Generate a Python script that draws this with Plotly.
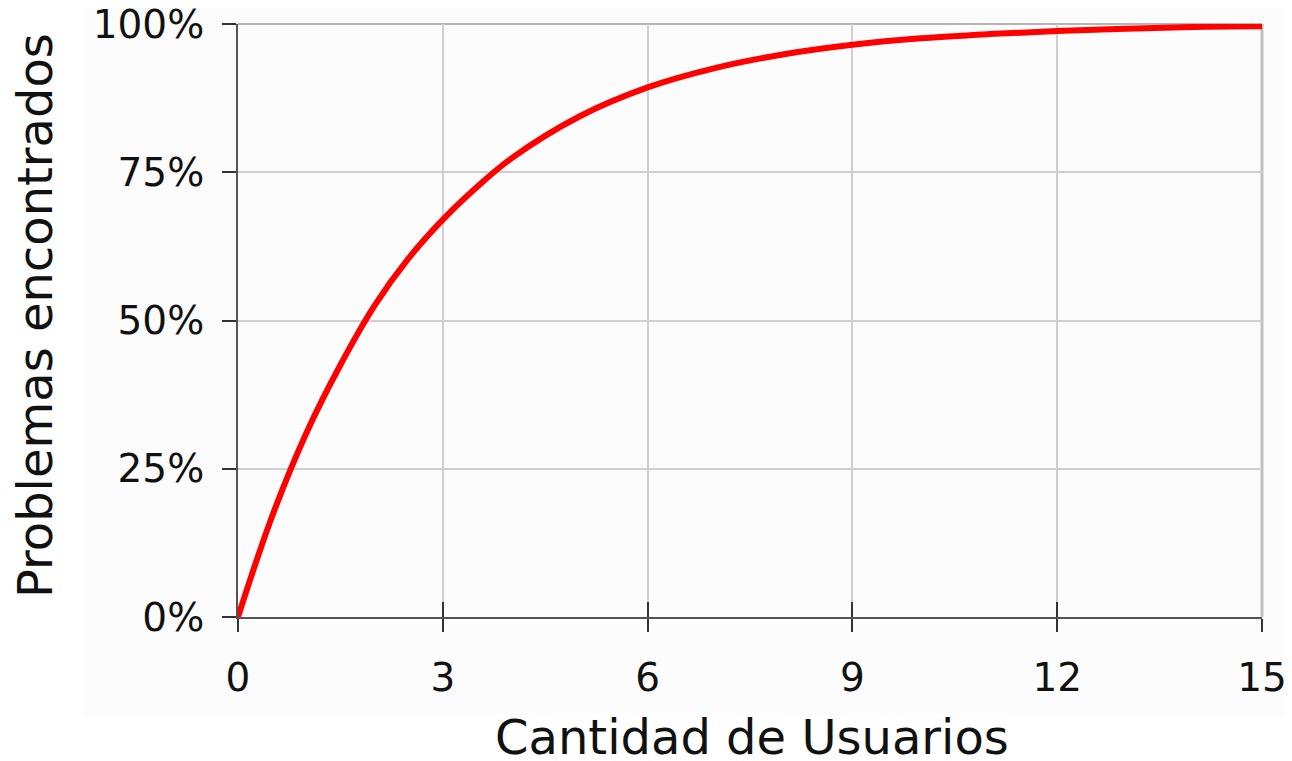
import plotly.graph_objects as go

usuarios = [0, 0.5, 1, 1.5, 2, 2.5, 3, 3.5, 4, 5, 6, 7, 8, 9, 10, 11, 12, 13, 14, 15]
problemas = [0, 17, 31, 42.5, 52.5, 60.5, 67, 72.5, 77.3, 84.4, 89.3, 92.6, 94.9, 96.5, 97.6, 98.3, 98.8, 99.2, 99.5, 99.6]

x_ticks = [0, 3, 6, 9, 12, 15]
y_ticks = [0, 25, 50, 75, 100]
y_labels = ["0%", "25%", "50%", "75%", "100%"]
x_title = "Cantidad de Usuarios"
y_title = "Problemas encontrados"

# the page body adds an 8px offset; the figure is sized to fit the window
OFF = 8
W, H = 1292 - OFF, 761 - OFF
L, R, T, B = 238 - OFF, 30, 24 - OFF, 144
pw, ph = W - L - R, H - T - B


def px_x(sx):
    """screen x pixel -> paper x"""
    return (sx - OFF - L) / pw


def px_y(sy):
    """screen y pixel -> paper y"""
    return (H - B - (sy - OFF)) / ph


fig = go.Figure()
fig.add_trace(go.Scatter(
    x=usuarios, y=problemas, mode="lines",
    line=dict(color="#ff0000", width=6, shape="spline", smoothing=1.0),
    hoverinfo="skip", showlegend=False, cliponaxis=False,
))
# helper trace for the inside half of the crossing x ticks
fig.add_trace(go.Scatter(x=[], y=[], xaxis="x2", showlegend=False, hoverinfo="skip"))

font = "DejaVu Sans, Verdana, sans-serif"
tick_font = dict(size=39, family=font, color="#111111")
title_font = dict(size=48, family=font, color="#111111")
grid_col = "#cfcfcf"
fig.update_layout(
    width=W, height=H,
    margin=dict(l=L, r=R, t=T, b=B, pad=0),
    paper_bgcolor="white",
    plot_bgcolor="#fbfcfb",
    font=dict(family=font, color="#111111"),
    xaxis=dict(
        range=[0, 15], tickvals=x_ticks, ticktext=[str(v) for v in x_ticks],
        showgrid=True, gridcolor=grid_col, gridwidth=1.5,
        showline=True, linecolor="#555555", linewidth=2,
        ticks="outside", ticklen=13, tickwidth=2, tickcolor="#333333",
        tickfont=tick_font, ticklabelstandoff=12, ticklabeloverflow="allow",
        zeroline=False, automargin=False,
    ),
    xaxis2=dict(
        range=[0, 15], tickvals=x_ticks, overlaying="x", side="bottom",
        showgrid=False, showline=False, showticklabels=False,
        ticks="inside", ticklen=15, tickwidth=2, tickcolor="#333333",
        zeroline=False, automargin=False,
    ),
    yaxis=dict(
        range=[0, 100], tickvals=y_ticks, ticktext=y_labels,
        showgrid=True, gridcolor=grid_col, gridwidth=1.5,
        showline=True, linecolor="#555555", linewidth=2,
        ticks="outside", ticklen=14, tickwidth=2, tickcolor="#333333",
        tickfont=tick_font, ticklabelstandoff=10, ticklabeloverflow="allow",
        zeroline=False, automargin=False,
    ),
    annotations=[
        dict(text=x_title, xref="paper", yref="paper", showarrow=False,
             x=px_x(752), y=px_y(737), xanchor="center", yanchor="middle",
             font=title_font),
        dict(text=y_title, xref="paper", yref="paper", showarrow=False,
             x=px_x(35), y=px_y(316), xanchor="center", yanchor="middle",
             textangle=-90, font=title_font),
    ],
    shapes=[
        dict(
            type="rect", xref="paper", yref="paper", layer="below",
            x0=px_x(83), x1=px_x(1287), y0=px_y(715), y1=px_y(7),
            fillcolor="#fbfcfb", line=dict(width=0),
        ),
        # top and right border gridlines
        dict(type="line", xref="paper", yref="paper", layer="below",
             x0=0, x1=1, y0=1, y1=1, line=dict(color="#b5b5b5", width=2)),
        dict(type="line", xref="paper", yref="paper", layer="below",
             x0=1, x1=1, y0=0, y1=1, line=dict(color="#c0c0c0", width=3)),
    ],
)

fig.write_html("out.html")
